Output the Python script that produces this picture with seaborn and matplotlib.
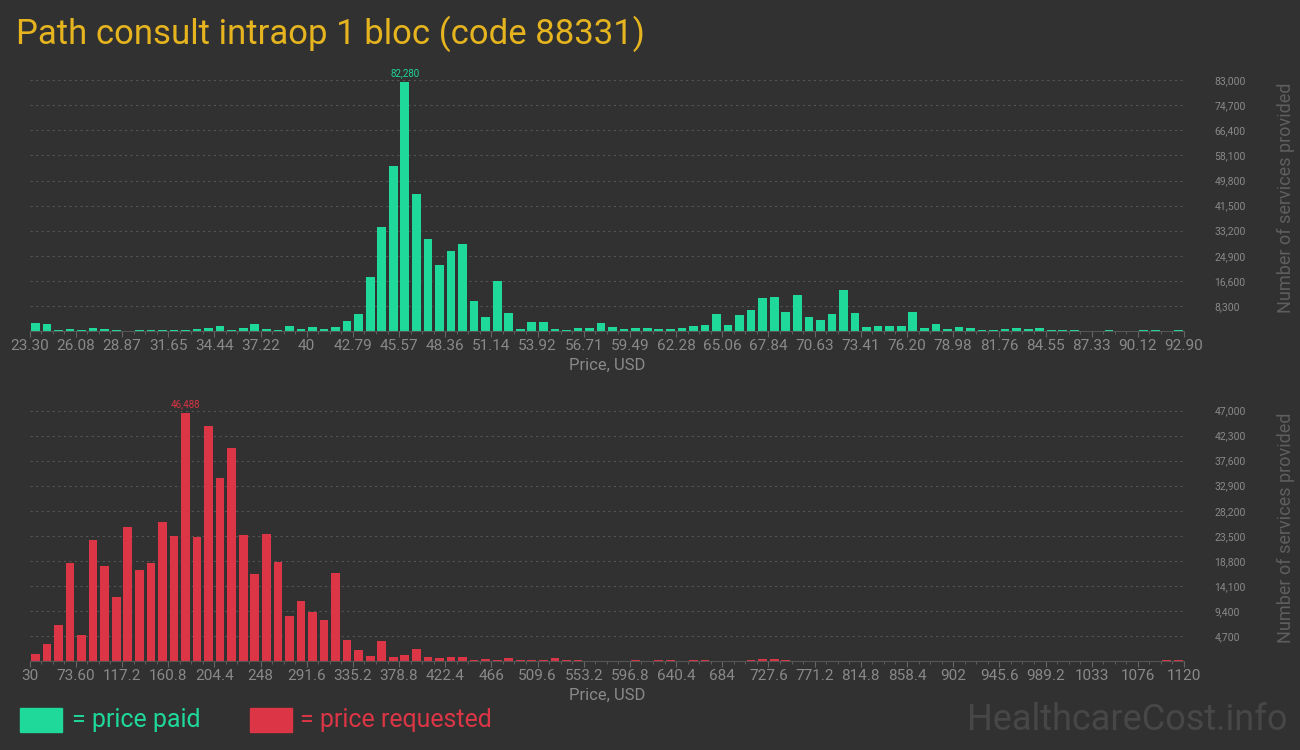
import numpy as np
import seaborn as sns
import matplotlib
matplotlib.use("Agg")
import matplotlib.pyplot as plt
from matplotlib.patches import Rectangle

# 데이터: 가격 구간별 서비스 수
paid_counts = [2540, 2200, 200, 550, 200, 880, 550, 200, 50, 200,
               200, 200, 200, 200, 550, 880, 1550, 200, 880, 2200,
               550, 200, 1550, 550, 1200, 550, 1200, 3200, 5500, 17800,
               34400, 54600, 82280, 45300, 30400, 21800, 26400, 28700, 9800, 4500,
               16500, 5900, 550, 2900, 2900, 550, 200, 880, 880, 2540,
               1200, 550, 880, 880, 550, 550, 880, 1550, 1880, 5500,
               1880, 5200, 6850, 10800, 11200, 6200, 11800, 4500, 3500, 5500,
               13500, 5900, 1200, 1550, 1550, 1550, 6200, 880, 2200, 550,
               1200, 880, 200, 200, 550, 880, 550, 880, 200, 200,
               200, 50, 50, 200, 50, 50, 200, 200, 50, 200]
requested_counts = [1250, 3130, 6700, 18340, 4820, 22650, 17770, 11950, 25090, 17020,
                    18340, 26030, 23400, 46488, 23220, 44060, 34290, 39930, 23590, 16270,
                    23780, 18520, 8390, 11200, 9140, 7630, 16460, 3880, 2000, 880,
                    3690, 690, 1060, 2190, 690, 500, 690, 690, 125, 310,
                    125, 500, 125, 125, 125, 500, 125, 125, 0, 0,
                    0, 0, 125, 0, 125, 125, 0, 125, 125, 0,
                    0, 0, 125, 310, 310, 125, 0, 0, 0, 0,
                    0, 0, 0, 0, 0, 0, 0, 0, 0, 0,
                    0, 0, 0, 0, 0, 0, 0, 0, 0, 0,
                    0, 0, 0, 0, 0, 0, 0, 0, 125, 125]
paid_labels = ["23.30", "26.08", "28.87", "31.65", "34.44", "37.22", "40", "42.79", "45.57",
               "48.36", "51.14", "53.92", "56.71", "59.49", "62.28", "65.06", "67.84", "70.63",
               "73.41", "76.20", "78.98", "81.76", "84.55", "87.33", "90.12", "92.90"]
requested_labels = ["30", "73.60", "117.2", "160.8", "204.4", "248", "291.6", "335.2", "378.8",
                    "422.4", "466", "509.6", "553.2", "596.8", "640.4", "684", "727.6", "771.2",
                    "814.8", "858.4", "902", "945.6", "989.2", "1033", "1076", "1120"]
paid_yticks = [8300, 16600, 24900, 33200, 41500, 49800, 58100, 66400, 74700, 83000]
requested_yticks = [4700, 9400, 14100, 18800, 23500, 28200, 32900, 37600, 42300, 47000]

BG = "#313131"
GREEN = "#1fd99b"
RED = "#dc3545"
plt.rcParams["font.family"] = "Roboto"

fig = plt.figure(figsize=(13, 7.5), dpi=100, facecolor=BG)


def draw(rect, counts, labels, yticks, ymax, color):
    ax = fig.add_axes(rect, facecolor=BG)
    sns.barplot(x=np.arange(len(counts)), y=counts, color=color, width=0.75,
                saturation=1, ax=ax)
    ax.set_xlim(-0.5, len(counts) - 0.5)
    ax.set_ylim(0, ymax)
    ax.set_xticks(np.arange(len(labels)) * 4 - 0.5)
    ax.set_xticklabels(labels, color="#8a8a8a", fontsize=11)
    ax.set_xticks(np.arange(len(counts)) - 0.5, minor=True)
    ax.tick_params(axis="x", which="both", colors="#666", length=4, pad=2)
    ax.tick_params(axis="x", which="minor", length=2)
    for t in ax.get_xticklabels():
        t.set_color("#8a8a8a")
    ax.yaxis.tick_right()
    ax.set_yticks(yticks)
    ax.set_yticklabels([f"{v:,}" for v in yticks], fontsize=7.5, color="#8a8a8a")
    ax.tick_params(axis="y", length=0, pad=22)
    ax.grid(axis="y", color="#555", linestyle=(0, (2, 3)), linewidth=0.8)
    ax.set_axisbelow(True)
    for s in ["top", "right", "left"]:
        ax.spines[s].set_visible(False)
    ax.spines["bottom"].set_color("#555")
    ax.set_xlabel("Price, USD", color="#8a8a8a", fontsize=12, labelpad=3)
    ax.yaxis.set_label_position("right")
    ax.set_ylabel("Number of services provided", color="#5f5f5f", fontsize=13, labelpad=22)
    i = int(np.argmax(counts))
    ax.text(i, counts[i] + ymax * 0.015, f"{counts[i]:,}", color=color,
            fontsize=7, ha="center", va="bottom")
    return ax


draw([0.0228, 0.5587, 0.888, 0.3547], paid_counts, paid_labels, paid_yticks, 88066, GREEN)
draw([0.0228, 0.1187, 0.888, 0.3547], requested_counts, requested_labels, requested_yticks,
     49930, RED)

fig.text(0.012, 0.955, "Path consult intraop 1 bloc (code 88331)", color="#e5b41f",
         fontsize=25, va="center", ha="left", fontstretch="condensed")

# 범례
fig.patches.append(Rectangle((20 / 1300, 1 - 732 / 750), 42 / 1300, 24 / 750,
                             transform=fig.transFigure, color=GREEN))
fig.text(72 / 1300, 1 - 720 / 750, "= price paid", color=GREEN, fontsize=18, va="center")
fig.patches.append(Rectangle((250 / 1300, 1 - 732 / 750), 42 / 1300, 24 / 750,
                             transform=fig.transFigure, color=RED))
fig.text(300 / 1300, 1 - 720 / 750, "= price requested", color=RED, fontsize=18, va="center")
fig.text(1288 / 1300, 1 - 720 / 750, "HealthcareCost.info", color="#474747", fontsize=26,
         va="center", ha="right")

fig.savefig("out.png", dpi=100, facecolor=BG)
